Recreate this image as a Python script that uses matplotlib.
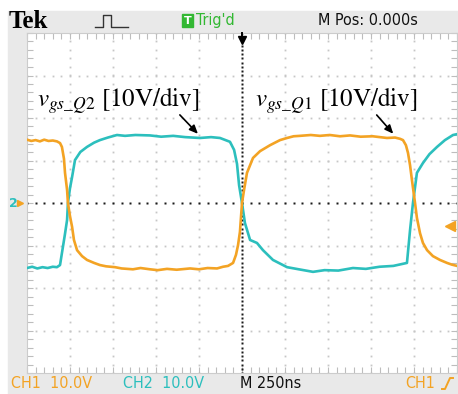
import matplotlib
matplotlib.use("Agg")
import matplotlib.pyplot as plt
import numpy as np
from matplotlib.patches import Rectangle
from matplotlib.lines import Line2D

# scope settings
volts_per_div = 10.0
ns_per_div = 250.0
trig_level = -5.4

# CH1 (orange) - v_gs of Q1, time in ns, voltage in V
ch1_t = [-1250, -1225, -1200, -1175, -1150, -1125, -1100, -1076, -1058, -1047,
         -1035, -1029, -1017, -1012, -1000, -988, -977, -959, -930, -901,
         -860, -826, -790, -738, -700, -634, -590, -535, -490, -436,
         -380, -302, -250, -200, -145, -110, -81, -52, -35, -23,
         -12, 0, 12, 29, 64, 105, 163, 221, 262, 300,
         337, 400, 453, 510, 570, 628, 690, 760, 843, 890,
         919, 936, 953, 965, 977, 988, 1006, 1017, 1035, 1052,
         1076, 1110, 1151, 1192, 1220, 1250]
ch1_v = [14.9, 14.6, 14.8, 14.5, 14.9, 14.6, 14.7, 14.5, 14.1, 13.2,
         10.4, 7.1, 3.1, 0.0, -3.1, -5.6, -8.7, -11.1, -12.5, -13.4,
         -14.1, -14.6, -14.9, -15.1, -15.4, -15.6, -15.3, -15.6, -15.8, -15.5,
         -15.7, -15.4, -15.6, -15.3, -15.4, -15.0, -14.8, -14.1, -12.2, -9.9,
         -6.8, 0.0, 3.1, 7.1, 10.6, 12.2, 13.6, 14.8, 15.3, 15.7,
         15.8, 16.0, 15.8, 16.0, 15.7, 15.9, 15.6, 15.7, 15.3, 15.4,
         15.1, 14.8, 13.6, 11.8, 8.9, 5.4, 0.0, -3.5, -7.1, -9.4,
         -11.1, -12.5, -13.4, -14.1, -14.5, -14.8]

# CH2 (cyan) - v_gs of Q2
ch2_t = [-1250, -1220, -1190, -1160, -1130, -1100, -1076, -1058, -1047, -1030,
         -1017, -1012, -1000, -988, -971, -940, -901, -860, -826, -780,
         -727, -680, -620, -535, -470, -400, -330, -244, -180, -128,
         -70, -46, -29, -17, 0, 17, 47, 87, 122, 180,
         262, 330, 413, 480, 560, 645, 720, 800, 880, 959,
         977, 994, 1017, 1052, 1090, 1134, 1180, 1227, 1250]
ch2_v = [-15.3, -15.0, -15.4, -15.1, -15.3, -15.0, -15.1, -14.6, -11.8, -7.5,
         -4.0, 0.0, 3.5, 6.1, 10.1, 12.0, 13.2, 14.2, 14.8, 15.4,
         16.0, 15.8, 16.0, 15.9, 15.6, 15.8, 15.5, 15.3, 15.5, 15.3,
         14.4, 12.5, 9.2, 4.2, 0.0, -4.7, -8.7, -9.4, -11.1, -13.4,
         -15.1, -15.6, -16.2, -15.8, -15.9, -15.3, -15.5, -15.0, -14.8, -14.1,
         -6.4, 0.0, 7.1, 9.4, 11.5, 13.2, 14.8, 16.0, 16.2]

ORANGE = "#f3a324"
CYAN = "#2cbfbd"
GREEN = "#33b833"
PANEL = "#e9e9e9"
UI = dict(family="DejaVu Sans", stretch="condensed", fontsize=11.5,
          va="center", ha="left")

plt.rcParams["mathtext.fontset"] = "stix"

W, H = 458, 394
fig = plt.figure(figsize=(W / 100, H / 100), dpi=100)
fig.patch.set_facecolor("white")


def px(x, y):
    # pixel position (from top-left) -> figure fraction
    return x / W, 1 - y / H


# grey instrument panel behind the screen
fig.patches.append(Rectangle(px(8, H), (W - 8) / W, (H - 11) / H,
                             transform=fig.transFigure, color=PANEL, zorder=-5))

x0, y0 = px(27, 373)
ax = fig.add_axes([x0, y0, 430 / W, 340 / H])
ax.set_zorder(1)
ax.set_facecolor("white")
ax.set_xlim(-5, 5)
ax.set_ylim(-4, 4)
ax.set_xticks(np.arange(-5, 6, 1))
ax.set_yticks(np.arange(-4, 5, 1))
ax.set_xticks(np.arange(-5, 5.01, 0.2), minor=True)
ax.set_yticks(np.arange(-4, 4.01, 0.2), minor=True)
ax.tick_params(which="both", direction="in", top=True, right=True,
               length=4, width=0.8, color="#bdbdbd",
               labelleft=False, labelbottom=False)
for s in ax.spines.values():
    s.set_color("#cccccc")
    s.set_linewidth(0.8)

# dotted graticule
fine_x = np.arange(-5, 5.01, 0.2)
fine_y = np.arange(-4, 4.01, 0.2)
for gx in range(-4, 5):
    if gx != 0:
        ax.plot(np.full_like(fine_y, gx), fine_y, ls="none", marker="s",
                ms=1.3, mec="none", mfc="#c6c6c6", zorder=1)
for gy in range(-3, 4):
    if gy != 0:
        ax.plot(fine_x, np.full_like(fine_x, gy), ls="none", marker="s",
                ms=1.3, mec="none", mfc="#c6c6c6", zorder=1)
# centre crosshair
ax.plot(fine_x, np.zeros_like(fine_x), ls="none", marker="s", ms=2.0,
        mec="none", mfc="#1a1a1a", zorder=2)
cross_y = np.arange(-4, 4.01, 0.1)
ax.plot(np.zeros_like(cross_y), cross_y, ls="none", marker="s", ms=1.8,
        mec="none", mfc="#1a1a1a", zorder=2)

# traces
ax.plot(np.array(ch2_t) / ns_per_div, np.array(ch2_v) / volts_per_div,
        color=CYAN, lw=1.9, zorder=3, solid_joinstyle="round")
ax.plot(np.array(ch1_t) / ns_per_div, np.array(ch1_v) / volts_per_div,
        color=ORANGE, lw=1.9, zorder=4, solid_joinstyle="round")

# labels with arrows
ax.text(-4.77, 2.26, r"$v_{\mathit{gs\_Q2}}$ [10V/div]", fontsize=18,
        family="STIXGeneral", va="baseline", ha="left", zorder=5)
ax.text(0.30, 2.26, r"$v_{\mathit{gs\_Q1}}$ [10V/div]", fontsize=18,
        family="STIXGeneral", va="baseline", ha="left", zorder=5)
arrow = dict(arrowstyle="-|>,head_length=0.5,head_width=0.22", color="black", lw=1.2)
ax.annotate("", xy=(-0.98, 1.58), xytext=(-1.49, 2.12), arrowprops=arrow, zorder=5)
ax.annotate("", xy=(3.56, 1.58), xytext=(3.09, 2.12), arrowprops=arrow, zorder=5)

# trigger position and level markers
ax.plot([0, 0], [4, 3.86], color="black", lw=1.4, clip_on=False, zorder=6)
ax.plot([0], [3.84], marker="v", ms=6, color="black", clip_on=False, zorder=6)
ax.plot([4.84], [trig_level / volts_per_div], marker="<", ms=7, color=ORANGE,
        clip_on=False, zorder=6)

# channel ground marker on the left
fig.text(*px(13, 203), "2", color=CYAN, fontsize=9, fontweight="bold",
         family="DejaVu Sans", va="center", ha="center")
fig.add_artist(Line2D([px(20, 0)[0]], [px(0, 203)[1]], marker=">", ms=5,
                      color=ORANGE, transform=fig.transFigure))

# header bar
fig.text(*px(9, 22), "Tek", fontsize=18, fontweight="bold",
         family="Liberation Serif", va="center", ha="left")
pulse_x = [95, 100, 103, 103, 111, 111, 115, 120, 128]
pulse_y = [27, 27, 27, 15, 15, 27, 27, 27, 27]
fig.add_artist(Line2D([px(x, 0)[0] for x in pulse_x],
                      [px(0, y)[1] for y in pulse_y],
                      color="#333333", lw=1.0, transform=fig.transFigure))
bx, by = px(182, 27)
fig.patches.append(Rectangle((bx, by), 11 / W, 13 / H, color=GREEN,
                             transform=fig.transFigure, zorder=2))
fig.text(*px(187.5, 20.5), "T", color="white", fontsize=8, fontweight="bold",
         family="DejaVu Sans", va="center", ha="center")
fig.text(*px(196, 20.5), "Trig'd", color=GREEN, **UI)
fig.text(*px(318, 20.5), "M Pos: 0.000s", color="#111111", **UI)

# footer readouts
fig.text(*px(11, 383), "CH1  10.0V", color=ORANGE, **UI)
fig.text(*px(123, 383), "CH2  10.0V", color=CYAN, **UI)
fig.text(*px(240, 383), "M 250ns", color="#111111", **UI)
fig.text(*px(405, 383), "CH1", color=ORANGE, **UI)
slope_x = [442, 445, 450, 453]
slope_y = [389, 389, 378, 378]
fig.add_artist(Line2D([px(x, 0)[0] for x in slope_x],
                      [px(0, y)[1] for y in slope_y],
                      color=ORANGE, lw=1.4, transform=fig.transFigure))

fig.savefig("out.png", dpi=100)
